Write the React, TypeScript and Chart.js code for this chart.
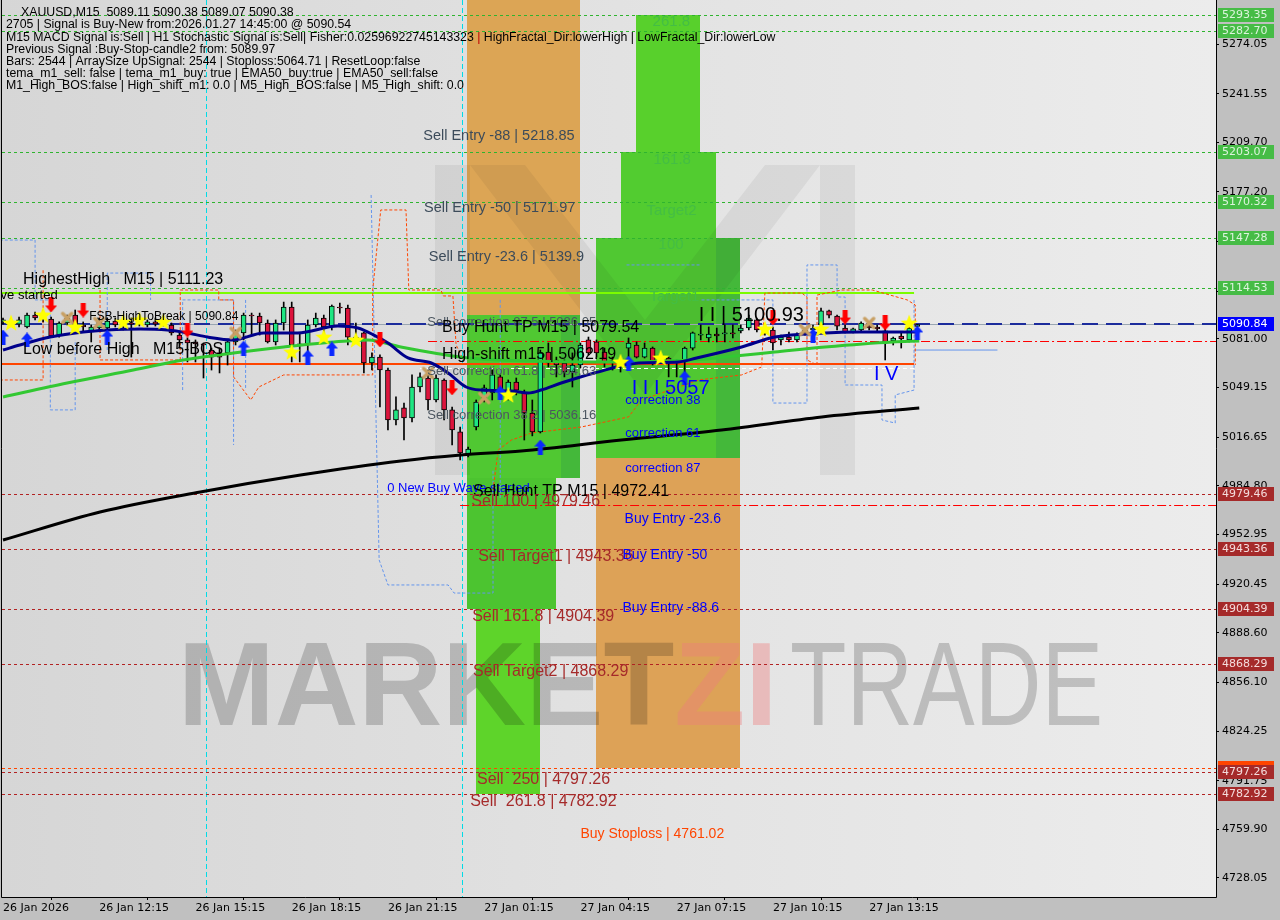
import React, { useEffect, useRef } from 'react';
import { Chart, registerables } from 'chart.js';

Chart.register(...registerables);

// ---------------- data ----------------
const timeTickIdx = [0, 12, 24, 36, 48, 60, 72, 84, 96, 108];
const timeTickLabels = ['26 Jan 2026', '26 Jan 12:15', '26 Jan 15:15', '26 Jan 18:15', '26 Jan 21:15', '27 Jan 01:15', '27 Jan 04:15', '27 Jan 07:15', '27 Jan 10:15', '27 Jan 13:15'];
const priceTicks = [5274.05, 5241.55, 5209.70, 5177.20, 5144.70, 5112.20, 5081.00, 5049.15, 5016.65, 4984.80, 4952.95, 4920.45, 4888.60, 4856.10, 4824.25, 4791.75, 4759.90, 4728.05];

const candleOpen = [5092.1, 5092.7, 5090.7, 5088.8, 5096.6, 5094.7, 5094.0, 5083.5, 5091.4, 5096.6, 5090.1, 5085.5, 5088.1, 5088.1, 5092.7, 5090.1, 5091.4, 5090.7, 5090.1, 5092.1, 5090.7, 5090.1, 5083.5, 5080.3, 5079.0, 5077.7, 5073.7, 5071.8, 5071.8, 5079.0, 5084.9, 5096.6, 5096.0, 5091.4, 5079.0, 5091.4, 5101.9, 5077.0, 5077.7, 5090.1, 5094.7, 5088.8, 5101.9, 5101.2, 5082.2, 5084.9, 5065.2, 5069.1, 5060.6, 5027.9, 5035.8, 5029.2, 5049.5, 5055.4, 5041.0, 5054.1, 5034.5, 5020.1, 5005.6, 5023.3, 5042.3, 5045.6, 5056.1, 5046.2, 5052.8, 5045.6, 5032.5, 5020.1, 5072.4, 5067.2, 5065.2, 5059.3, 5063.9, 5080.3, 5079.0, 5072.4, 5066.5, 5065.9, 5075.0, 5077.0, 5069.1, 5075.0, 5067.2, 5068.5, 5066.5, 5065.9, 5075.0, 5083.5, 5081.6, 5084.2, 5084.2, 5084.9, 5086.2, 5088.1, 5093.4, 5086.8, 5086.8, 5080.3, 5082.2, 5080.3, 5084.9, 5086.8, 5090.1, 5099.3, 5096.0, 5088.1, 5085.5, 5086.8, 5089.4, 5088.8, 5086.2, 5079.6, 5082.9, 5080.3, 5089.11];
const candleHigh = [5094.7, 5094.7, 5095.3, 5097.9, 5098.6, 5099.9, 5095.3, 5092.1, 5096.6, 5099.9, 5092.1, 5090.1, 5094.7, 5094.7, 5094.7, 5093.4, 5094.7, 5094.7, 5093.4, 5094.7, 5096.0, 5091.4, 5085.5, 5081.6, 5080.3, 5078.3, 5075.0, 5075.0, 5080.3, 5086.8, 5097.9, 5097.9, 5097.9, 5093.4, 5093.4, 5105.1, 5105.1, 5084.9, 5093.4, 5097.9, 5096.6, 5103.2, 5104.5, 5103.2, 5091.4, 5085.5, 5071.8, 5070.5, 5061.9, 5043.0, 5039.0, 5057.4, 5058.7, 5060.6, 5057.4, 5054.8, 5036.4, 5023.3, 5010.2, 5041.0, 5050.8, 5060.6, 5057.4, 5054.1, 5055.4, 5047.5, 5041.0, 5073.7, 5078.3, 5069.1, 5067.2, 5071.8, 5078.3, 5082.2, 5080.3, 5075.0, 5069.1, 5067.2, 5081.6, 5079.0, 5078.3, 5075.7, 5069.8, 5069.1, 5067.2, 5075.7, 5085.5, 5090.1, 5088.8, 5088.1, 5090.1, 5090.1, 5090.1, 5096.6, 5094.7, 5088.8, 5088.8, 5083.5, 5085.5, 5084.9, 5088.1, 5090.1, 5101.2, 5099.9, 5096.6, 5090.1, 5088.1, 5092.1, 5091.4, 5090.1, 5088.1, 5082.2, 5084.9, 5089.4, 5090.38];
const candleLow = [5090.7, 5089.4, 5088.8, 5088.1, 5093.4, 5092.1, 5082.2, 5082.2, 5090.1, 5086.8, 5085.5, 5079.0, 5086.8, 5082.2, 5088.8, 5086.8, 5069.1, 5089.4, 5088.8, 5089.4, 5089.4, 5083.5, 5075.0, 5065.9, 5065.9, 5055.4, 5060.6, 5058.7, 5063.9, 5077.0, 5080.3, 5083.5, 5083.5, 5078.3, 5077.0, 5086.8, 5065.9, 5065.9, 5069.1, 5088.8, 5082.2, 5086.8, 5097.9, 5077.0, 5078.3, 5058.7, 5060.6, 5036.4, 5021.4, 5024.6, 5014.8, 5026.6, 5046.2, 5034.5, 5039.7, 5027.9, 5011.5, 5001.7, 5003.7, 5021.4, 5039.7, 5041.0, 5043.0, 5041.0, 5044.3, 5014.8, 5017.5, 5019.4, 5062.6, 5056.1, 5056.1, 5049.5, 5061.9, 5070.5, 5069.1, 5062.6, 5060.6, 5059.3, 5069.1, 5068.5, 5068.5, 5063.9, 5065.2, 5056.1, 5056.1, 5056.1, 5073.7, 5080.3, 5079.0, 5079.0, 5079.0, 5081.6, 5084.9, 5086.8, 5085.5, 5083.5, 5073.7, 5077.0, 5079.0, 5079.0, 5083.5, 5080.3, 5088.1, 5094.7, 5086.8, 5084.9, 5084.9, 5086.2, 5086.8, 5085.5, 5067.2, 5077.0, 5075.0, 5079.0, 5089.07];
const candleClose = [5093.4, 5090.7, 5093.4, 5096.6, 5094.7, 5094.0, 5082.9, 5091.4, 5094.7, 5090.1, 5088.8, 5088.8, 5092.1, 5092.7, 5090.1, 5092.1, 5090.7, 5092.7, 5092.1, 5090.7, 5093.4, 5084.9, 5080.3, 5078.3, 5077.7, 5077.0, 5069.1, 5069.1, 5079.0, 5084.9, 5096.6, 5096.0, 5091.4, 5079.0, 5091.4, 5101.9, 5077.0, 5077.7, 5090.1, 5094.7, 5088.8, 5102.5, 5101.2, 5082.2, 5080.3, 5065.2, 5069.1, 5060.6, 5027.9, 5034.5, 5029.2, 5049.5, 5056.1, 5041.0, 5055.4, 5034.5, 5021.4, 5006.3, 5008.9, 5039.7, 5048.9, 5057.4, 5047.5, 5052.8, 5047.5, 5032.5, 5020.1, 5071.8, 5065.2, 5063.9, 5059.3, 5063.9, 5077.0, 5071.8, 5071.8, 5065.2, 5065.9, 5066.5, 5078.3, 5069.1, 5075.0, 5065.9, 5066.5, 5065.2, 5065.9, 5075.0, 5084.9, 5084.2, 5084.2, 5082.9, 5084.9, 5084.2, 5088.1, 5094.7, 5086.8, 5084.9, 5078.3, 5082.2, 5080.3, 5083.5, 5086.8, 5088.1, 5099.3, 5096.6, 5089.4, 5085.5, 5087.5, 5091.4, 5088.1, 5087.5, 5079.0, 5081.6, 5080.9, 5088.1, 5090.38];

const emaFastIdx = [0, 2.1, 5.9, 10, 13, 17.1, 20.5, 23, 25.5, 28.75, 32.5, 36.75, 41.75, 44.25, 46.25, 48, 50.5, 53.4, 55.5, 57.75, 59.6, 63.4, 65.5, 67.1, 69.6, 73.75, 79.25, 84.25, 86.5, 92.1, 96.25, 102.5, 106.75, 110.9, 114.25];
const emaFastVal = [5073.7, 5077.0, 5082.2, 5085.5, 5086.8, 5087.5, 5086.8, 5084.9, 5082.2, 5080.3, 5084.9, 5084.9, 5089.4, 5088.1, 5083.5, 5078.3, 5068.5, 5065.2, 5058.7, 5049.5, 5047.5, 5046.9, 5045.6, 5047.5, 5052.1, 5058.7, 5065.2, 5065.9, 5068.5, 5075.7, 5082.2, 5084.9, 5085.5, 5085.5, 5085.5];
const ema50Idx = [0, 8, 16.25, 22.5, 28.75, 35, 41.25, 45.5, 49.6, 53.75, 58, 65.9, 73.4, 85.9, 90, 96.25, 102.5, 110.9, 114.25];
const ema50Val = [5043.0, 5052.1, 5060.6, 5067.2, 5071.8, 5075.7, 5079.0, 5080.3, 5075.7, 5071.8, 5068.5, 5066.5, 5065.9, 5067.2, 5069.1, 5072.4, 5075.7, 5079.0, 5079.6];
const ema200Idx = [0, 12.1, 24.6, 37.1, 49.6, 57.1, 64.6, 77.1, 89.6, 102.1, 114.25];
const ema200Val = [4949.3, 4967.7, 4980.8, 4991.9, 5001.1, 5005.0, 5007.6, 5014.8, 5021.4, 5029.9, 5035.8];

const starIdx = [1, 5, 9, 15, 17, 20, 36, 40, 44, 63, 77, 82, 95, 102, 113];
const starVal = [5091.4, 5096.6, 5088.8, 5092.1, 5093.4, 5092.1, 5072.4, 5082.2, 5080.3, 5044.3, 5065.9, 5068.5, 5087.5, 5087.5, 5091.4];
const crossIdx = [8, 12, 29, 53, 60, 100, 108];
const crossVal = [5094.7, 5091.4, 5084.9, 5058.7, 5042.3, 5086.8, 5091.4];
const upIdx = [0, 3, 13, 30, 38, 41, 62, 67, 78, 85, 101, 114];
const upVal = [5082.2, 5080.3, 5082.2, 5075.0, 5069.1, 5074.4, 5045.6, 5010.2, 5065.2, 5055.4, 5082.9, 5084.9];
const downIdx = [6, 10, 23, 47, 56, 96, 105, 110];
const downVal = [5103.2, 5099.9, 5086.8, 5080.3, 5048.9, 5094.7, 5095.3, 5091.4];

const upperBand = [
  [[-0.4, 5054.1], [5, 5054.1], [5, 5126.1]],
  [[12.1, 5113.0], [12.1, 5067.2], [22.1, 5067.2], [22.1, 5113.0], [26.9, 5113.0], [26.9, 5106.5], [28.75, 5106.5], [28.75, 5056.1], [30.9, 5041.0], [31.9, 5049.5], [35, 5057.4], [46.1, 5057.4], [46.1, 5113.0], [47.1, 5165.4], [50.25, 5165.4], [50.6, 5113.0], [54.6, 5113.0], [54.9, 5109.1], [56.1, 5109.1], [56.5, 5077.0], [57.4, 5067.2]],
  [[61.1, 4982.1], [61.75, 5008.3], [63.4, 5014.8], [65.9, 5019.4], [72.1, 5023.3], [78, 5029.9], [79.6, 5041.0], [86.75, 5054.1], [92.1, 5057.4], [94.6, 5062.6], [95, 5111.0], [99.6, 5111.0], [100.25, 5108.4], [100.25, 5067.2], [101.5, 5063.9], [101.5, 5109.7], [104.6, 5113.0], [108.4, 5113.0], [112.75, 5106.5], [113.75, 5103.2], [113.75, 5063.9]],
];
const lowerBand = [
  [[-0.4, 5145.7], [4, 5145.7], [4, 5106.5], [5.9, 5106.5], [5.9, 5034.5], [9, 5034.5], [9, 5080.3]],
  [[13, 5073.7], [13, 5124.1], [18.4, 5124.1], [18.4, 5106.5]],
  [[22.4, 5047.5], [22.4, 5106.5], [28.75, 5106.5], [28.75, 5011.5]],
  [[30.25, 5106.5], [30.25, 5047.5]],
  [[45.9, 5175.2], [46.9, 4936.3], [48, 4919.9], [55.5, 4919.9], [56.25, 4914.6], [61.1, 4914.6], [61.1, 4995.2]],
  [[62, 5106.5], [62, 4975.5]],
  [[77.75, 5129.4], [87.1, 5129.4]],
  [[87.1, 5106.5], [96, 5106.5], [96, 5039.0], [100.25, 5039.0], [100.25, 5129.4], [104, 5129.4], [104, 5108.4], [105, 5108.4], [105, 5050.8], [109.6, 5050.8], [109.6, 5027.9], [111.25, 5025.9], [111.25, 5044.3], [113.6, 5047.5], [113.6, 5106.5]],
];
const bidSegIdx = [113.6, 124];
const bidSegVal = [5073.7, 5073.7];

const greenLevels = [5293.35, 5282.70, 5203.07, 5170.32, 5147.28, 5114.53];
const redLevels = [4979.46, 4943.36, 4904.39, 4868.29, 4797.26, 4782.92];
const extraLevel = 4800.2;
const currentPrice = 5090.84;
const highestHigh = 5111.23;
const stopLoss = 5064.71;
const highShift = 5062.19;
const buyHuntTP = 5079.54;
const sellHuntTP = 4972.41;
const separatorIdx = [25.25, 57.25];

const boxLeft = [57.9, 57.9, 57.9, 59, 78.9, 77, 74, 74, 88.9, 69.6];
const boxRight = [71.9, 71.9, 69, 67, 86.9, 88.9, 91.9, 91.9, 91.9, 71.9];
const boxTop = [5310, 5096.6, 4990, 4904.39, 5293.35, 5203.07, 5147.28, 5003, 5147.28, 5096.6];
const boxBottom = [5096.6, 4990, 4904.39, 4782.92, 5203.07, 5147.28, 5003, 4800.2, 5003, 4990];

const infoLines = [
  'XAUUSD,M15  5089.11 5090.38 5089.07 5090.38',
  '2705 | Signal is Buy-New from:2026.01.27 14:45:00 @ 5090.54',
  'M15 MACD Signal is:Sell | H1 Stochastic Signal is:Sell| Fisher:0.02596922745143323 ',
  'Previous Signal :Buy-Stop-candle2 from: 5089.97',
  'Bars: 2544 | ArraySize UpSignal: 2544 | Stoploss:5064.71 | ResetLoop:false',
  'tema_m1_sell: false | tema_m1_buy: true | EMA50_buy:true | EMA50_sell:false',
  'M1_High_BOS:false | High_shift_m1: 0.0 | M5_High_BOS:false | M5_High_shift: 0.0',
];
const infoTail = ' HighFractal_Dir:lowerHigh | LowFractal_Dir:lowerLow';

// annotation texts: [text, bar index, price]
const annoTexts = [
  ['Sell Entry -88 | 5218.85', 52.4, 5213.8],
  ['Sell Entry -50 | 5171.97', 52.5, 5166.7],
  ['Sell Entry -23.6 | 5139.9', 53.1, 5134.6],
  ['261.8', 81, 5288.5],
  ['161.8', 81.1, 5198.1],
  ['Target2', 80.25, 5164.7],
  ['100', 81.75, 5142.5],
  ['Target1', 80.6, 5108.4],
  ['HighestHigh   M15 | 5111.23', 2.5, 5119.6],
  ['ve started', -0.3, 5109.7],
  ['FSB-HighToBreak | 5090.84', 10.75, 5095.3],
  ['Low before High   M15-BOS', 2.5, 5073.7],
  ['Sell correction 87.5 | 5086.05', 52.9, 5092.1],
  ['Buy Hunt TP M15 | 5079.54', 54.75, 5088.1],
  ['High-shift m15 | 5062.19', 54.75, 5070.5],
  ['Sell correction 61.8 | 5064.63', 52.9, 5060.0],
  ['Sell correction 38.2 | 5036.16', 52.9, 5031.2],
  ['I I | 5100.93', 86.75, 5096.6],
  ['I I I 5057', 78.4, 5048.2],
  ['I V', 108.6, 5057.4],
  ['correction 38', 77.6, 5041.0],
  ['correction 61', 77.6, 5019.4],
  ['correction 87', 77.6, 4996.5],
  ['0 New Buy Wave started', 47.9, 4983.4],
  ['Sell Hunt TP M15 | 4972.41', 58.6, 4980.8],
  ['Sell 100 | 4979.46', 58.4, 4974.2],
  ['Buy Entry -23.6', 77.5, 4963.1],
  ['Sell Target1 | 4943.36', 59.25, 4938.2],
  ['Buy Entry -50', 77.25, 4939.5],
  ['Buy Entry -88.6', 77.25, 4904.8],
  ['Sell 161.8 | 4904.39', 58.5, 4898.9],
  ['Sell Target2 | 4868.29', 58.6, 4862.9],
  ['Sell  250 | 4797.26', 59.1, 4792.2],
  ['Sell  261.8 | 4782.92', 58.25, 4777.8],
  ['Buy Stoploss | 4761.02', 72, 4756.9],
];

// ---------------- styles ----------------
const FONT = "'Liberation Sans', Arial, sans-serif";
const AXFONT = "'DejaVu Sans', sans-serif";
const X_MIN = -0.125, X_MAX = 151.25, Y_MIN = 4715.61, Y_MAX = 5302.86;
const boxColors = ['#dca555', '#50c832', '#4cc430', '#5ed42a', '#58d02c', '#52cc30', '#50c832', '#dda257', '#44b83a', '#44b83a'];
const C_SLATE = '#3c4b5a', C_CORR = '#4c5660', C_GT = '#44be44', C_BROWN = '#a52a2a', C_BLUE = '#0000ff';
const annoStyle = [
  [C_SLATE, 14.5], [C_SLATE, 14.5], [C_SLATE, 14.5],
  [C_GT, 15], [C_GT, 15], [C_GT, 15], [C_GT, 15], [C_GT, 15],
  ['#000', 16], ['#000', 13], ['#000', 12], ['#000', 16],
  [C_CORR, 13], ['#000', 16], ['#000', 16], [C_CORR, 13], [C_CORR, 13],
  ['#000', 20], [C_BLUE, 20], [C_BLUE, 20],
  [C_BLUE, 13], [C_BLUE, 13], [C_BLUE, 13], [C_BLUE, 13],
  ['#000', 16], [C_BROWN, 16], [C_BLUE, 14], [C_BROWN, 16], [C_BLUE, 14], [C_BLUE, 14],
  [C_BROWN, 16], [C_BROWN, 16], [C_BROWN, 16], [C_BROWN, 16], ['#ff4500', 14],
];

function mkCanvas(w: number, h: number, draw: (g: CanvasRenderingContext2D) => void) {
  const c = document.createElement('canvas');
  c.width = w; c.height = h;
  draw(c.getContext('2d') as CanvasRenderingContext2D);
  return c;
}

function pieces(list: number[][][]) {
  const out: any[] = [];
  list.forEach((p, k) => {
    if (k > 0) out.push({ x: p[0][0], y: null });
    p.forEach(([x, y]) => out.push({ x, y }));
  });
  return out;
}

const mt4Plugin: any = {
  id: 'mt4',
  beforeDraw(chart: any) {
    const { ctx, chartArea: a, width, height } = chart;
    ctx.save();
    ctx.fillStyle = '#c0c0c0';
    ctx.fillRect(0, 0, width, height);
    const g = ctx.createLinearGradient(a.left, 0, a.right, 0);
    g.addColorStop(0, '#d6d6d6');
    g.addColorStop(0.55, '#e3e3e3');
    g.addColorStop(1, '#ececec');
    ctx.fillStyle = g;
    ctx.fillRect(a.left, a.top, a.right - a.left, a.bottom - a.top);
    ctx.restore();
  },
  beforeDatasetsDraw(chart: any) {
    const { ctx, chartArea: a } = chart;
    const xs = chart.scales.x, ys = chart.scales.y;
    ctx.save();
    ctx.beginPath();
    ctx.rect(a.left, a.top, a.right - a.left, a.bottom - a.top);
    ctx.clip();
    // boxes
    for (let k = 0; k < boxLeft.length; k++) {
      const x0 = Math.round(xs.getPixelForValue(boxLeft[k]));
      const x1 = Math.round(xs.getPixelForValue(boxRight[k]));
      const y0 = Math.round(ys.getPixelForValue(boxTop[k]));
      const y1 = Math.round(ys.getPixelForValue(boxBottom[k]));
      ctx.fillStyle = boxColors[k];
      ctx.fillRect(x0, y0, x1 - x0, y1 - y0);
    }
    // logo + watermark
    ctx.globalCompositeOperation = 'multiply';
    ctx.fillStyle = '#f1f1f1';
    ctx.fillRect(435, 165, 35, 310);
    ctx.fillRect(820, 165, 35, 310);
    ctx.beginPath();
    ctx.moveTo(470, 165); ctx.lineTo(525, 165); ctx.lineTo(645, 320); ctx.lineTo(765, 165); ctx.lineTo(820, 165); ctx.lineTo(645, 395); ctx.closePath();
    ctx.fill();
    ctx.textBaseline = 'alphabetic';
    ctx.textAlign = 'left';
    ctx.font = `bold 119px ${FONT}`;
    ctx.fillStyle = '#d0d0d0';
    ctx.save();
    ctx.translate(178, 725);
    ctx.scale(0.975, 1);
    ctx.fillText('MARKET', 0, 0);
    const wM = ctx.measureText('MARKET').width;
    ctx.globalCompositeOperation = 'source-over';
    ctx.fillStyle = 'rgba(238,125,125,0.4)';
    ctx.fillText('ZI', wM, 0);
    ctx.restore();
    ctx.globalCompositeOperation = 'multiply';
    ctx.fillStyle = '#d0d0d0';
    ctx.font = `119px ${FONT}`;
    const wT = ctx.measureText('TRADE').width;
    ctx.save();
    ctx.translate(790, 725);
    ctx.scale(313 / wT, 1);
    ctx.fillText('TRADE', 0, 0);
    ctx.restore();
    ctx.globalCompositeOperation = 'source-over';

    // separators
    ctx.setLineDash([5, 3]);
    ctx.strokeStyle = '#00dce6';
    ctx.lineWidth = 1;
    separatorIdx.forEach((i) => {
      const x = Math.round(xs.getPixelForValue(i)) + 0.5;
      ctx.beginPath(); ctx.moveTo(x, a.top); ctx.lineTo(x, a.bottom); ctx.stroke();
    });

    const hline = (v: number, x0: number, x1: number, color: string, w: number, dash: number[]) => {
      const y = Math.round(ys.getPixelForValue(v)) + (w % 2 === 1 ? 0.5 : 0);
      ctx.beginPath();
      ctx.setLineDash(dash);
      ctx.strokeStyle = color;
      ctx.lineWidth = w;
      ctx.moveTo(x0, y); ctx.lineTo(x1, y);
      ctx.stroke();
    };
    greenLevels.forEach((v) => hline(v, a.left, a.right, '#2fb42f', 1, [3, 3]));
    hline(extraLevel, a.left, a.right, '#ff4500', 1, [3, 3]);
    redLevels.forEach((v) => hline(v, a.left, a.right, '#b22222', 1, [3, 3]));
    const xEnd = xs.getPixelForValue(113.6);
    hline(highestHigh, a.left, xEnd, '#7cfc00', 2, []);
    hline(stopLoss, a.left, xEnd, '#ff4500', 2, []);
    hline(highShift, xs.getPixelForValue(52), xEnd, '#ffffff', 1, [4, 3]);
    hline(buyHuntTP, xs.getPixelForValue(53), a.right, '#ff0000', 1, [9, 3, 2, 3]);
    hline(sellHuntTP, xs.getPixelForValue(57), a.right, '#ff0000', 1, [9, 3, 2, 3]);
    hline(currentPrice, a.left, a.right, '#9aa6b2', 1, []);
    hline(currentPrice, a.left, a.right, '#1c2c9c', 2, [16, 8]);
    ctx.setLineDash([]);
    ctx.restore();
  },
  afterDatasetsDraw(chart: any) {
    const { ctx, chartArea: a } = chart;
    const xs = chart.scales.x, ys = chart.scales.y;
    ctx.save();
    ctx.beginPath();
    ctx.rect(a.left, a.top, a.right - a.left, a.bottom - a.top);
    ctx.clip();
    ctx.textBaseline = 'middle';
    ctx.textAlign = 'left';
    annoTexts.forEach((t: any, k) => {
      const [color, size] = annoStyle[k] as any;
      ctx.font = `${size}px ${FONT}`;
      ctx.fillStyle = color;
      ctx.fillText(t[0], xs.getPixelForValue(t[1]), ys.getPixelForValue(t[2]));
    });
    ctx.restore();
  },
  afterDraw(chart: any) {
    const { ctx, chartArea: a } = chart;
    const ys = chart.scales.y;
    ctx.save();
    // frame
    ctx.strokeStyle = '#000';
    ctx.lineWidth = 1;
    ctx.beginPath();
    ctx.moveTo(a.right + 0.5, 0); ctx.lineTo(a.right + 0.5, a.bottom + 0.5);
    ctx.lineTo(a.left - 0.5, a.bottom + 0.5); ctx.lineTo(a.left - 0.5, 0);
    ctx.stroke();
    // price tags
    ctx.font = `11px ${AXFONT}`;
    ctx.textBaseline = 'middle';
    ctx.textAlign = 'left';
    const tag = (v: number, bg: string, fg: string | null) => {
      const y = Math.round(ys.getPixelForValue(v));
      ctx.fillStyle = bg;
      ctx.fillRect(a.right + 2, y - 7, 56, 14);
      if (fg) {
        ctx.fillStyle = fg;
        ctx.fillText(v.toFixed(2), a.right + 6, y + 0.5);
      }
    };
    tag(extraLevel, '#ff4500', null);
    redLevels.forEach((v) => tag(v, '#a52a2a', '#f4dcdc'));
    greenLevels.forEach((v) => tag(v, '#46bc46', '#dcf4dc'));
    tag(currentPrice, '#0000ff', '#ffffff');
    // info text
    ctx.font = `12.3px ${FONT}`;
    const rows = [13, 25, 38, 50, 62, 74, 86];
    infoLines.forEach((s, k) => {
      const x = k === 0 ? 21 : 6;
      ctx.fillStyle = '#000';
      ctx.fillText(s, x, rows[k]);
      if (k === 2) {
        const w1 = ctx.measureText(s).width;
        ctx.fillStyle = '#c00000';
        ctx.fillText('|', x + w1, rows[k]);
        const w2 = ctx.measureText('|').width;
        ctx.fillStyle = '#000';
        ctx.fillText(infoTail, x + w1 + w2, rows[k]);
      }
    });
    ctx.restore();
  },
};

export default function App() {
  const ref = useRef<HTMLCanvasElement | null>(null);
  useEffect(() => {
    document.body.style.margin = '0';
    const star = mkCanvas(18, 18, (g) => {
      const cx = 9, cy = 9.5, R = 9, r = 3.8;
      g.beginPath();
      for (let k = 0; k < 10; k++) {
        const ang = -Math.PI / 2 + (k * Math.PI) / 5;
        const rad = k % 2 === 0 ? R : r;
        g.lineTo(cx + rad * Math.cos(ang), cy + rad * Math.sin(ang));
      }
      g.closePath();
      g.fillStyle = '#ffff00';
      g.fill();
    });
    const upArrow = mkCanvas(12, 15, (g) => {
      g.beginPath();
      g.moveTo(6, 0); g.lineTo(12, 7); g.lineTo(8.5, 7); g.lineTo(8.5, 15); g.lineTo(3.5, 15); g.lineTo(3.5, 7); g.lineTo(0, 7);
      g.closePath();
      g.fillStyle = '#0a28ff';
      g.fill();
    });
    const downArrow = mkCanvas(12, 15, (g) => {
      g.beginPath();
      g.moveTo(6, 15); g.lineTo(12, 8); g.lineTo(8.5, 8); g.lineTo(8.5, 0); g.lineTo(3.5, 0); g.lineTo(3.5, 8); g.lineTo(0, 8);
      g.closePath();
      g.fillStyle = '#ff0000';
      g.fill();
    });
    const cross = mkCanvas(15, 15, (g) => {
      g.strokeStyle = '#c8a064';
      g.lineWidth = 3.5;
      g.lineCap = 'round';
      g.beginPath();
      g.moveTo(3, 3); g.lineTo(12, 12);
      g.moveTo(12, 3); g.lineTo(3, 12);
      g.stroke();
    });

    const n = candleOpen.length;
    const idx = Array.from({ length: n }, (_, i) => i);
    const bodyColors = idx.map((i) => (candleClose[i] >= candleOpen[i] ? '#1ee682' : '#dc143c'));
    const markers = (xsArr: number[], vsArr: number[], img: any, order: number) => ({
      type: 'line',
      data: xsArr.map((x, k) => ({ x, y: vsArr[k] })),
      showLine: false,
      pointStyle: img,
      pointRadius: 6,
      order,
    });
    const lineDs = (xsArr: number[], vsArr: number[], color: string, width: number, order: number) => ({
      type: 'line',
      data: xsArr.map((x, k) => ({ x, y: vsArr[k] })),
      borderColor: color,
      borderWidth: width,
      pointRadius: 0,
      cubicInterpolationMode: 'monotone',
      order,
    });

    const cfg: any = {
      type: 'bar',
      data: {
        datasets: [
          markers(starIdx, starVal, star, 0),
          markers(crossIdx, crossVal, cross, 0),
          markers(upIdx, upVal, upArrow, 0),
          markers(downIdx, downVal, downArrow, 0),
          lineDs(emaFastIdx, emaFastVal, '#00008b', 3, 1),
          lineDs(ema50Idx, ema50Val, '#32c832', 3, 2),
          lineDs(ema200Idx, ema200Val, '#000000', 3, 3),
          {
            type: 'bar',
            data: idx.map((i) => ({ x: i, y: [candleOpen[i], candleClose[i]] })),
            backgroundColor: bodyColors,
            borderColor: '#000',
            borderWidth: 1,
            borderSkipped: false,
            barThickness: 5,
            minBarLength: 1,
            grouped: false,
            order: 4,
          },
          {
            type: 'bar',
            data: idx.map((i) => ({ x: i, y: [candleLow[i], candleHigh[i]] })),
            backgroundColor: '#000',
            borderWidth: 0,
            barThickness: 1,
            grouped: false,
            order: 5,
          },
          {
            type: 'line',
            data: pieces(upperBand),
            borderColor: '#ff4500',
            borderWidth: 1,
            borderDash: [3, 2],
            pointRadius: 0,
            spanGaps: false,
            order: 6,
          },
          {
            type: 'line',
            data: pieces(lowerBand),
            borderColor: '#6495ed',
            borderWidth: 1,
            borderDash: [3, 2],
            pointRadius: 0,
            spanGaps: false,
            order: 6,
          },
          {
            type: 'line',
            data: bidSegIdx.map((x, k) => ({ x, y: bidSegVal[k] })),
            borderColor: '#6495ed',
            borderWidth: 1,
            pointRadius: 0,
            order: 6,
          },
        ],
      },
      options: {
        animation: false,
        responsive: false,
        devicePixelRatio: 1,
        events: [],
        layout: { autoPadding: false, padding: { left: 2, top: 0, right: 0, bottom: 0 } },
        plugins: { legend: { display: false }, tooltip: { enabled: false } },
        scales: {
          x: {
            type: 'linear',
            min: X_MIN,
            max: X_MAX,
            offset: false,
            border: { display: false },
            grid: { display: true, drawOnChartArea: false, tickLength: 3, color: '#000' },
            ticks: {
              autoSkip: false,
              maxRotation: 0,
              align: 'start',
              padding: 2,
              color: '#000',
              font: { family: AXFONT, size: 11 },
              callback: (v: any) => {
                const k = timeTickIdx.indexOf(Number(v));
                return k >= 0 ? timeTickLabels[k] : '';
              },
            },
            afterBuildTicks: (s: any) => { s.ticks = timeTickIdx.map((v) => ({ value: v })); },
            afterFit: (s: any) => { s.height = 23; s.paddingLeft = 0; s.paddingRight = 0; },
          },
          y: {
            type: 'linear',
            position: 'right',
            min: Y_MIN,
            max: Y_MAX,
            border: { display: false },
            grid: { display: true, drawOnChartArea: false, tickLength: 3, color: '#000' },
            ticks: {
              padding: 3,
              color: '#000',
              font: { family: AXFONT, size: 11 },
              callback: (v: any) => Number(v).toFixed(2),
            },
            afterBuildTicks: (s: any) => { s.ticks = priceTicks.map((v) => ({ value: v })); },
            afterFit: (s: any) => { s.width = 64; s.paddingTop = 0; s.paddingBottom = 0; },
          },
        },
      },
      plugins: [mt4Plugin],
    };
    const chart = new Chart(ref.current as HTMLCanvasElement, cfg);
    return () => chart.destroy();
  }, []);
  return (
    <div style={{ position: 'absolute', left: 0, top: 0, width: 1280, height: 920 }}>
      <canvas ref={ref} width={1280} height={920} style={{ display: 'block', width: 1280, height: 920 }} />
    </div>
  );
}
